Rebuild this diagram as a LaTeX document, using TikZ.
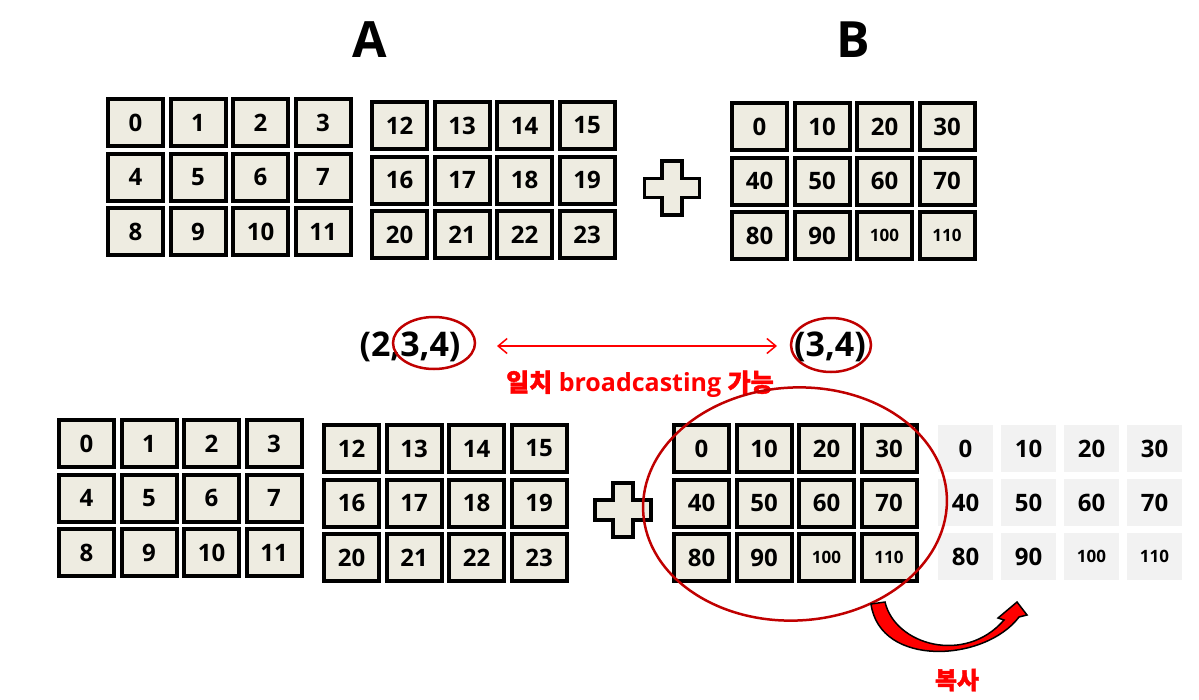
\documentclass[tikz,border=0pt]{standalone}
\usepackage{fontspec}
\setmainfont{Open Sans}
\newfontfamily\kr[FakeBold=1.5]{Noto Sans CJK KR}
\usetikzlibrary{shapes.geometric,arrows.meta}
\definecolor{cellfill}{RGB}{238,236,225}
\definecolor{ghostfill}{RGB}{242,242,242}
\definecolor{darkred}{RGB}{192,0,0}
\newcommand\cellnum[1]{\ifnum#1>99 \fontsize{17}{20}\selectfont\fi #1}
% grid: name, x, y (top-left corner), values
\newcommand\mygrid[4]{%
  \foreach \v [count=\k from 0] in {#4} {%
    \pgfmathtruncatemacro\ci{mod(\k,4)}%
    \pgfmathtruncatemacro\cj{div(\k,4)}%
    \node[cell] (#1-\k) at ({#2+29.5+62.5*\ci},{#3+25.5+54.5*\cj}) {\cellnum{\v}};
  }}
\newcommand\myghost[4]{%
  \foreach \v [count=\k from 0] in {#4} {%
    \pgfmathtruncatemacro\ci{mod(\k,4)}%
    \pgfmathtruncatemacro\cj{div(\k,4)}%
    \node[ghostcell] (#1-\k) at ({#2+27.5+63*\ci},{#3+23.5+54*\cj}) {\cellnum{\v}};
  }}
\tikzset{
  cell/.style={draw=black, fill=cellfill, line width=4pt, minimum width=55pt,
    minimum height=47pt, inner sep=0pt, font=\fontsize{24}{28}\selectfont\bfseries},
  ghostcell/.style={fill=ghostfill, minimum width=55pt, minimum height=47pt,
    inner sep=0pt, font=\fontsize{24}{28}\selectfont\bfseries},
  plusst/.style={draw=black, fill=cellfill, line width=3.5pt, line join=miter},
  title/.style={font=\fontsize{50}{54}\selectfont\bfseries},
  shapetxt/.style={font=\fontsize{34}{38}\selectfont\bfseries, inner sep=0pt},
  redtxt/.style={text=red, font=\fontsize{25}{28}\selectfont\bfseries, inner sep=0pt},
  circ/.style={ellipse, draw=darkred, line width=2.5pt, inner sep=0pt},
}
\begin{document}
\begin{tikzpicture}[x=1pt,y=-1pt]
\useasboundingbox[fill=white] (0,0) rectangle (1199,699);

\node[title] (tA) at (370,40) {A};
\node[title] (tB) at (853,40) {B};

% top row
\mygrid{ta}{106}{97}{0,1,2,3,4,5,6,7,8,9,10,11}
\mygrid{tb}{370}{100}{12,13,14,15,16,17,18,19,20,21,22,23}
\mygrid{tc}{730}{101}{0,10,20,30,40,50,60,70,80,90,100,110}
\draw[plusst, shift={(672,188)}] (-10,-27) -- (10,-27) -- (10,-9.5) -- (27.5,-9.5)
  -- (27.5,9.5) -- (10,9.5) -- (10,27) -- (-10,27) -- (-10,9.5) -- (-27.5,9.5)
  -- (-27.5,-9.5) -- (-10,-9.5) -- cycle;

% shapes
\node[shapetxt] (s1) at (410,347) {(2,3,4)};
\node[shapetxt] (s2) at (830,347) {(3,4)};
\node[circ, minimum width=82pt, minimum height=52pt] (e1) at (434,343) {};
\node[circ, minimum width=80pt, minimum height=54pt] (e2) at (831,345) {};
\coordinate (aL) at (497,346);
\coordinate (aR) at (777,346);
\draw[red, line width=1.5pt, {Straight Barb[length=9pt,width=15pt]}-{Straight Barb[length=9pt,width=15pt]}] (aL) -- (aR);
\node[redtxt] (match) at (640,384) {{\kr 일치} broadcasting {\kr 가능}};

% bottom row
\mygrid{ba}{57}{418}{0,1,2,3,4,5,6,7,8,9,10,11}
\mygrid{bb}{322}{423}{12,13,14,15,16,17,18,19,20,21,22,23}
\mygrid{bc}{672}{423}{0,10,20,30,40,50,60,70,80,90,100,110}
\myghost{bg}{938}{425}{0,10,20,30,40,50,60,70,80,90,100,110}
\draw[plusst, shift={(623,510)}] (-10,-27) -- (10,-27) -- (10,-10) -- (28,-10)
  -- (28,10) -- (10,10) -- (10,27) -- (-10,27) -- (-10,10) -- (-28,10)
  -- (-28,-10) -- (-10,-10) -- cycle;

\node[circ, minimum width=304pt, minimum height=233pt, rotate=3] (big) at (795,504) {};

% copy arrow
\draw[fill=red, draw=black, line width=1.5pt, line join=miter]
  (871,604) -- (885,602) .. controls (895,645) and (965,665) .. (1004,620)
  -- (998,618) -- (1017,602) -- (1027,615) -- (1019,617)
  .. controls (985,662) and (880,668) .. (871,604) -- cycle;
\node[redtxt, font=\fontsize{24}{28}\selectfont\bfseries] (copy) at (957,680) {\kr 복사};
\end{tikzpicture}
\end{document}
